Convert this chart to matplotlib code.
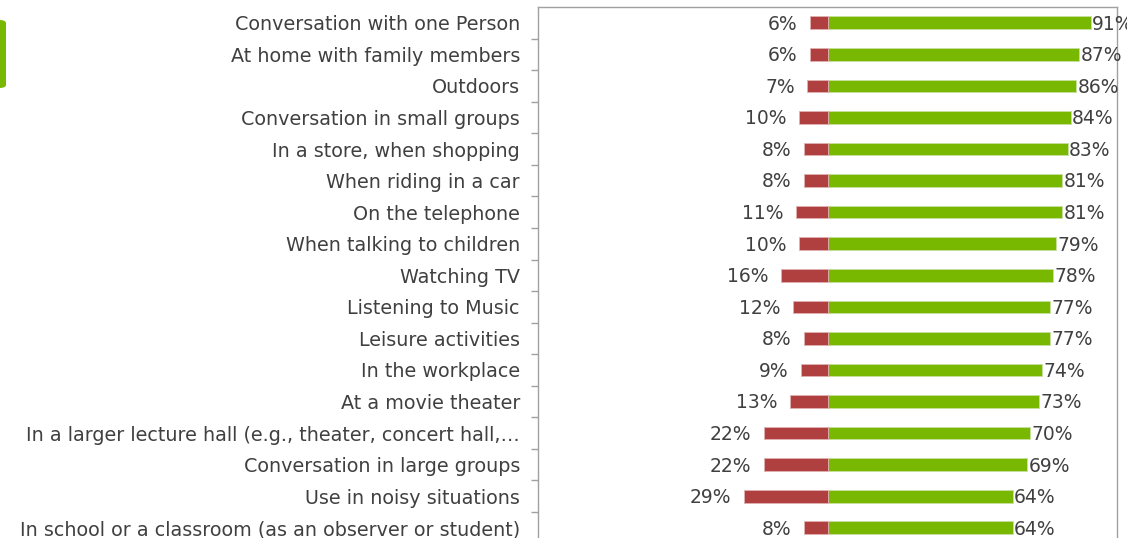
import matplotlib
matplotlib.use("Agg")
import matplotlib.pyplot as plt
from matplotlib.patches import FancyBboxPatch
import numpy as np

matplotlib.rcParams.update({'font.size': 13.5, 'font.family': 'DejaVu Sans'})

labels = [
    "Conversation with one Person",
    "At home with family members",
    "Outdoors",
    "Conversation in small groups",
    "In a store, when shopping",
    "When riding in a car",
    "On the telephone",
    "When talking to children",
    "Watching TV",
    "Listening to Music",
    "Leisure activities",
    "In the workplace",
    "At a movie theater",
    "In a larger lecture hall (e.g., theater, concert hall,\u2026",
    "Conversation in large groups",
    "Use in noisy situations",
    "In school or a classroom (as an observer or student)",
]
dissatisfied = [6, 6, 7, 10, 8, 8, 11, 10, 16, 12, 8, 9, 13, 22, 22, 29, 8]
satisfied = [91, 87, 86, 84, 83, 81, 81, 79, 78, 77, 77, 74, 73, 70, 69, 64, 64]

green = "#78b800"
red = "#b04040"
text_col = "#404040"
frame_col = "#a0a0a0"

fig = plt.figure(figsize=(11.27, 5.38), dpi=100)
ax = fig.add_axes([538 / 1127, -0.0104, (1117 - 538) / 1127, 0.9974])

y = np.arange(len(labels))
h = 0.4
ax.barh(y, satisfied, h, color=green, edgecolor="#c8e0a0", linewidth=0.6)
ax.barh(y, [-d for d in dissatisfied], h, color=red, edgecolor="#e0b0b0", linewidth=0.6)

for yi, s, d in zip(y, satisfied, dissatisfied):
    ax.annotate("{}%".format(s), xy=(s, yi), xytext=(1, -1), textcoords="offset points",
                ha="left", va="center", color=text_col, annotation_clip=False)
    ax.annotate("{}%".format(d), xy=(-d, yi), xytext=(-9, -1), textcoords="offset points",
                ha="right", va="center", color=text_col)

ax.set_xlim(-100, 100)
ax.set_ylim(len(labels) - 0.5, -0.5)
ax.set_xticks([])
ax.set_yticks(y)
ax.set_yticklabels(labels, color=text_col, fontsize=13.8)
ax.tick_params(axis="y", length=0, pad=13)
ax.set_yticks(np.arange(len(labels)) + 0.5, minor=True)
ax.tick_params(axis="y", which="minor", length=5, color=frame_col, width=1)

for side in ["left", "top", "right"]:
    ax.spines[side].set_color(frame_col)
    ax.spines[side].set_linewidth(1)
ax.spines["bottom"].set_visible(False)

# green tab at the left edge
fig.patches.append(FancyBboxPatch((-8 / 1127, 1 - 88 / 538), 14 / 1127, 68 / 538,
                                  boxstyle="round,pad=0,rounding_size=0.006",
                                  transform=fig.transFigure, facecolor=green,
                                  edgecolor="none"))

fig.savefig("out.png", dpi=100)
